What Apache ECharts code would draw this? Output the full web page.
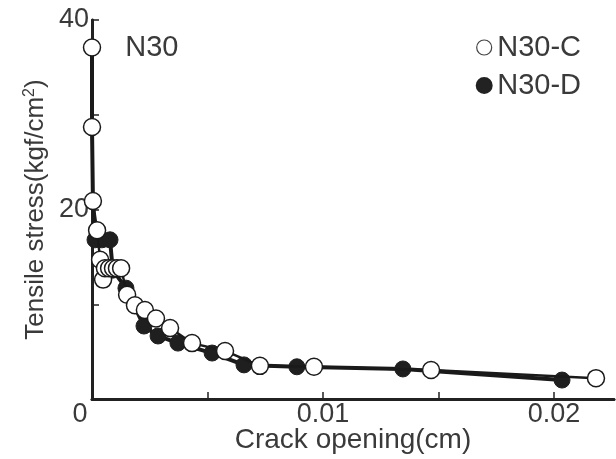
<!DOCTYPE html>
<html><head><meta charset="utf-8">
<script src="https://cdn.jsdelivr.net/npm/echarts@6/dist/echarts.min.js"></script>
<style>html,body{margin:0;padding:0;background:#fff}#c{width:616px;height:459px}</style>
</head><body><div id="c"></div>
<script>
// N30-C (open circles): [crack opening (cm), tensile stress (kgf/cm2)]
const seriesC = [
  [0, 37.1], [0, 28.7], [0.00004, 20.9], [0.00022, 17.8], [0.00035, 14.7],
  [0.00048, 12.6], [0.00056, 13.8], [0.00074, 13.8], [0.00091, 13.8],
  [0.00108, 13.8], [0.00126, 13.8], [0.00152, 11.0], [0.00186, 9.9],
  [0.00229, 9.4], [0.00277, 8.5], [0.00338, 7.5], [0.00433, 5.9],
  [0.00576, 5.07], [0.00727, 3.5], [0.00961, 3.4], [0.01468, 3.06], [0.02182, 2.2]
];
// N30-D (filled circles); first three points share the initial drop (no marker)
const seriesD = [
  [0, 37.1], [0, 28.7], [0.00004, 20.9], [0.00013, 16.8], [0.00043, 16.8],
  [0.00078, 16.8], [0.0009, 13.6], [0.00147, 11.7], [0.00225, 7.7],
  [0.00286, 6.65], [0.00372, 5.9], [0.0052, 4.85], [0.00658, 3.6],
  [0.00887, 3.4], [0.01346, 3.17], [0.02035, 2.0]
];
const hiddenD = 3; // leading D points drawn without marker
const seriesNames = ['N30-C', 'N30-D'];
const curveLabel = 'N30';
const xTitle = 'Crack opening(cm)';
const yTitle = 'Tensile stress(kgf/cm{s|2})';

const font = '"Liberation Sans", Arial, sans-serif';
const txt = '#3a3a3a';
const chart = echarts.init(document.getElementById('c'));
chart.setOption({
  animation: false,
  grid: { left: 92, right: 2, top: 20, bottom: 60, containLabel: false, outerBoundsMode: 'none' },
  legend: {
    orient: 'vertical', right: 30, top: 28, itemGap: 9,
    itemWidth: 16, itemHeight: 15,
    textStyle: { fontFamily: font, fontSize: 29, color: txt },
    data: [
      { name: seriesNames[0], icon: 'circle', itemStyle: { color: '#fff', borderColor: '#444', borderWidth: 1.2 } },
      { name: seriesNames[1], icon: 'circle', itemStyle: { color: '#222', borderColor: '#222' } }
    ]
  },
  xAxis: [{
    type: 'value', min: 0, max: 0.0226, interval: 0.005,
    name: xTitle, nameLocation: 'middle', nameGap: 27, nameMoveOverlap: false,
    nameTextStyle: { fontFamily: font, fontSize: 28, color: txt },
    axisLine: { lineStyle: { color: '#222', width: 3 } },
    axisTick: { inside: true, length: 7, lineStyle: { color: '#222', width: 1.5 } },
    splitLine: { show: false },
    axisLabel: {
      margin: 2, fontFamily: font, fontSize: 27, color: txt,
      showMaxLabel: false,
      formatter: v => {
        if (Math.abs(v) < 1e-9) return '{z|0}';
        const r = Math.round(v * 1000) / 1000;
        return (Math.round(r * 1000) % 10 === 0) ? String(r) : '';
      },
      rich: { z: { fontFamily: font, fontSize: 27, color: txt, padding: [0, 24, 0, 0] } }
    }
  }, {
    type: 'value', position: 'top', min: 0, max: 0.0226,
    axisLine: { show: true, lineStyle: { color: '#222', width: 2.5 } },
    axisTick: { show: false }, axisLabel: { show: false }, splitLine: { show: false }
  }],
  yAxis: [{
    type: 'value', min: 0, max: 40, interval: 10,
    name: yTitle, nameLocation: 'middle', nameGap: 42, nameMoveOverlap: false,
    nameTextStyle: {
      fontFamily: font, fontSize: 26, color: txt,
      rich: { s: { fontFamily: font, fontSize: 16, color: txt, verticalAlign: 'top', padding: [0, 0, 12, 0] } }
    },
    axisLine: { lineStyle: { color: '#222', width: 3 } },
    axisTick: { inside: true, length: 7, lineStyle: { color: '#222', width: 1.5 } },
    splitLine: { show: false },
    axisLabel: {
      margin: 3, fontFamily: font, fontSize: 27, color: txt,
      formatter: v => (v === 20 || v === 40) ? String(v) : ''
    }
  }, {
    type: 'value', position: 'right', min: 0, max: 40,
    axisLine: { show: true, lineStyle: { color: '#222', width: 2.5 } },
    axisTick: { show: false }, axisLabel: { show: false }, splitLine: { show: false }
  }],
  series: [{
    name: seriesNames[1], type: 'line', z: 2,
    data: seriesD.map((p, i) => i < hiddenD ? { value: p, symbol: 'none' } : p),
    symbol: 'circle', symbolSize: 16,
    lineStyle: { color: '#1a1a1a', width: 4 },
    itemStyle: { color: '#1f1f1f', borderColor: '#1f1f1f', borderWidth: 1 }
  }, {
    name: seriesNames[0], type: 'line', z: 3,
    data: seriesC.map((p, i) => i === 0 ? {
      value: p,
      label: { show: true, formatter: curveLabel, position: 'right', distance: 24, offset: [0, 1],
        fontFamily: font, fontSize: 29, color: txt }
    } : p),
    symbol: 'circle', symbolSize: 17,
    lineStyle: { color: '#1a1a1a', width: 2.5 },
    itemStyle: { color: '#fff', borderColor: '#1a1a1a', borderWidth: 1.5 }
  }]
});
</script></body></html>
